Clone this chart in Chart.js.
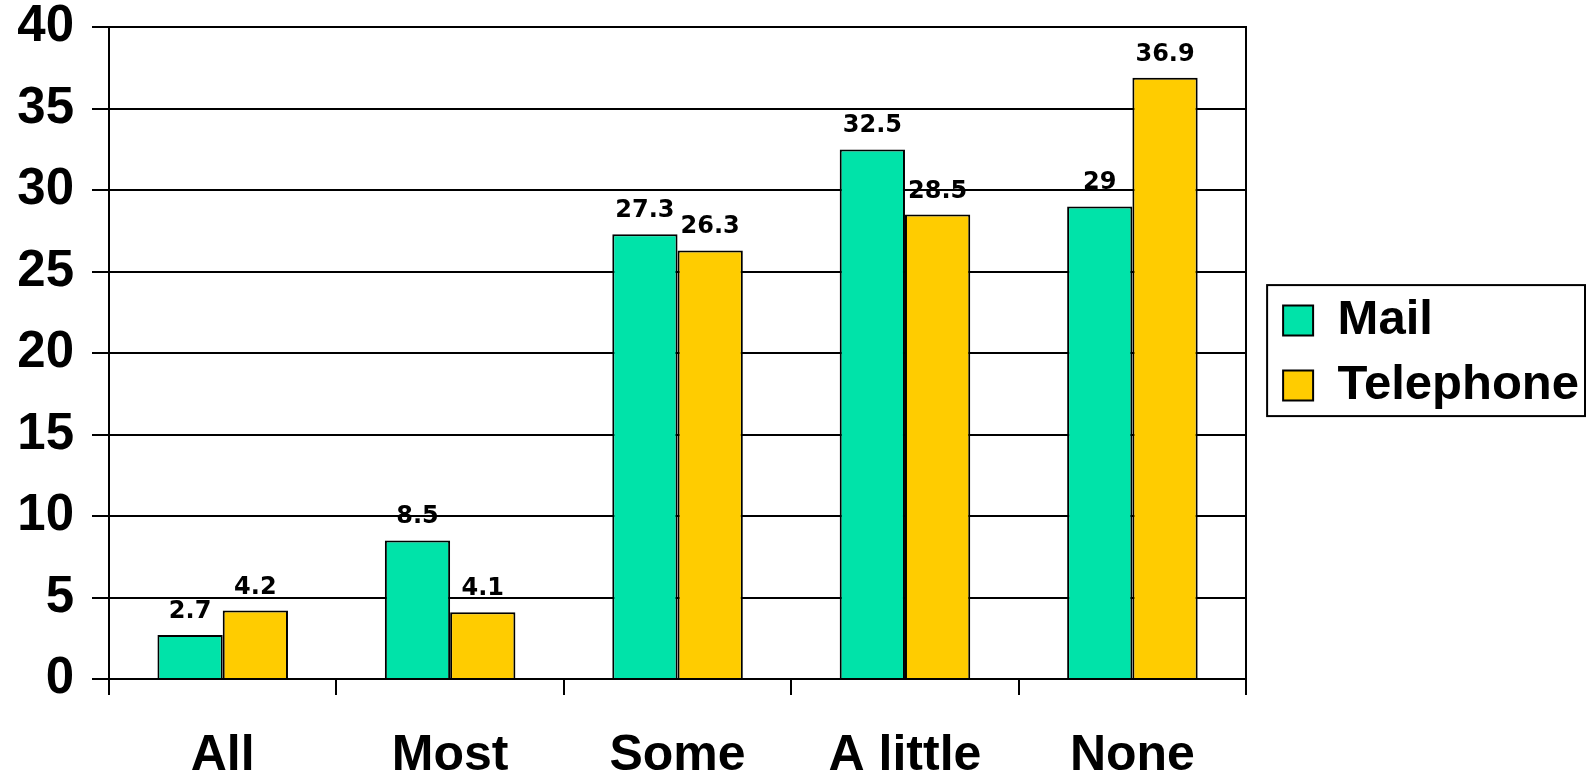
<!DOCTYPE html>
<html>
<head>
<meta charset="utf-8">
<script src="https://cdn.jsdelivr.net/npm/chart.js@4.4.0/dist/chart.umd.min.js"></script>
<style>
  html, body { margin: 0; padding: 0; background: #fff; }
</style>
</head>
<body>
<canvas id="myChart" width="1589" height="773"></canvas>
<script>
// Data
const categories = ['All', 'Most', 'Some', 'A little', 'None'];
const mailValues = [2.7, 8.5, 27.3, 32.5, 29];
const telephoneValues = [4.2, 4.1, 26.3, 28.5, 36.9];
const yMin = 0;
const yMax = 40;
const yStep = 5;

Chart.defaults.font.family = "'Liberation Sans', Arial, sans-serif";
Chart.defaults.color = '#000';

// value labels above each bar
const valueLabels = {
  id: 'valueLabels',
  afterDatasetsDraw(chart) {
    const ctx = chart.ctx;
    ctx.save();
    ctx.font = "bold 24px 'DejaVu Sans', sans-serif";
    ctx.fillStyle = '#000';
    ctx.textAlign = 'center';
    ctx.textBaseline = 'alphabetic';
    chart.data.datasets.forEach((ds, i) => {
      chart.getDatasetMeta(i).data.forEach((bar, j) => {
        ctx.fillText(String(ds.data[j]), bar.x, bar.y - 17);
      });
    });
    ctx.restore();
  }
};

// box round the legend
const legendBorder = {
  id: 'legendBorder',
  afterDraw(chart) {
    const hb = chart.legend.legendHitBoxes;
    if (!hb || !hb.length) return;
    const left = hb[0].left - 16;
    const top = hb[0].top - 11;
    const right = Math.max(...hb.map(h => h.left + h.width)) + 6;
    const last = hb[hb.length - 1];
    const bottom = last.top + last.height + 6;
    const ctx = chart.ctx;
    ctx.save();
    ctx.strokeStyle = '#000';
    ctx.lineWidth = 2;
    ctx.strokeRect(left, top, right - left, bottom - top);
    ctx.restore();
  }
};

const myChart = new Chart('myChart', {
  type: 'bar',
  data: {
    labels: categories,
    datasets: [
      {
        label: 'Mail',
        data: mailValues,
        backgroundColor: '#00E3A9',
        borderColor: '#000',
        borderWidth: 2,
        barPercentage: 1,
        categoryPercentage: 0.574
      },
      {
        label: 'Telephone',
        data: telephoneValues,
        backgroundColor: '#FFCC00',
        borderColor: '#000',
        borderWidth: 2,
        barPercentage: 1,
        categoryPercentage: 0.574
      }
    ]
  },
  options: {
    responsive: false,
    animation: false,
    layout: { padding: { left: 0, top: 0, right: 0, bottom: 0 } },
    plugins: {
      tooltip: { enabled: false },
      legend: {
        position: 'right',
        fullSize: false,
        maxWidth: 360,
        labels: {
          boxWidth: 30,
          boxHeight: 30,
          padding: 16,
          color: '#000',
          font: { size: 49, weight: 'bold' }
        }
      }
    },
    scales: {
      x: {
        grid: {
          drawOnChartArea: false,
          drawTicks: true,
          tickLength: 16,
          color: '#000',
          lineWidth: 2
        },
        border: { display: true, color: '#000', width: 2 },
        ticks: {
          color: '#000',
          padding: 31,
          maxRotation: 0,
          autoSkip: false,
          font: { size: 50, weight: 'bold' }
        },
        afterFit(scale) { scale.height = 94; }
      },
      y: {
        min: yMin,
        max: yMax,
        ticks: {
          stepSize: yStep,
          color: '#000',
          padding: 18,
          font: { size: 51, weight: 'bold', lineHeight: 0.36 }
        },
        grid: {
          color: '#000',
          lineWidth: 2,
          tickLength: 17
        },
        border: { display: true, color: '#000', width: 2 },
        afterFit(scale) { scale.width = 109; }
      },
      yRight: {
        position: 'right',
        min: yMin,
        max: yMax,
        ticks: { display: false },
        grid: { drawOnChartArea: false, drawTicks: false },
        border: { display: true, color: '#000', width: 2 },
        afterFit(scale) { scale.width = 21; }
      }
    }
  },
  plugins: [valueLabels, legendBorder]
});
</script>
</body>
</html>
